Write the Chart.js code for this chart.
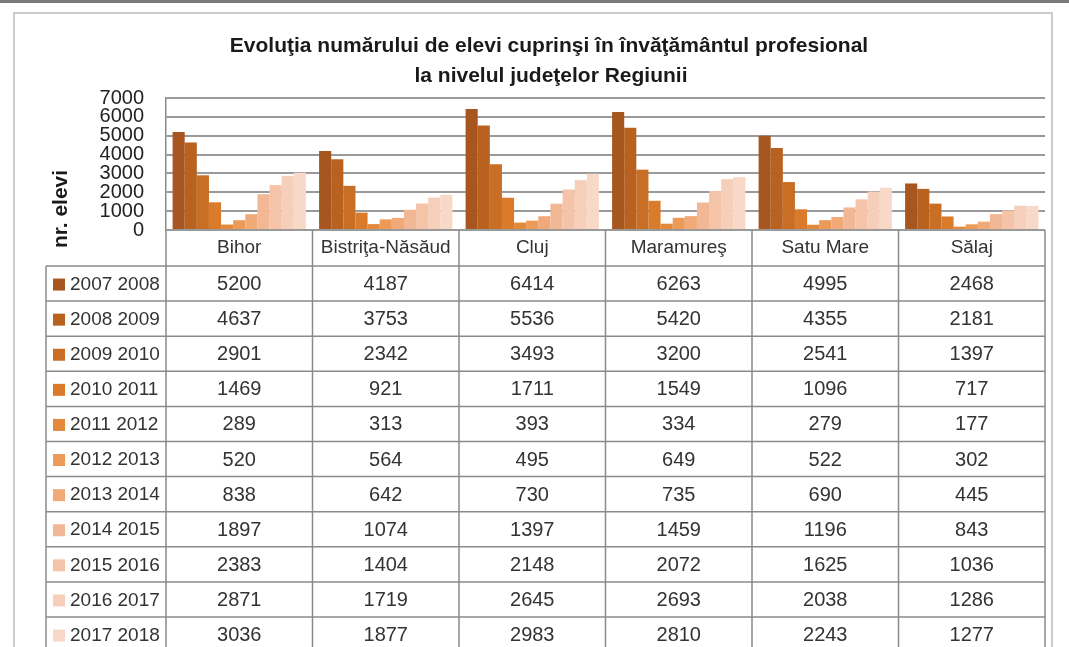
<!DOCTYPE html>
<html>
<head>
<meta charset="utf-8">
<script src="https://cdn.jsdelivr.net/npm/chart.js@4"></script>
<style>
  html, body { margin: 0; padding: 0; background: #fff; }
  #wrap { width: 1069px; height: 647px; position: relative; }
</style>
</head>
<body>
<div id="wrap"><canvas id="chart" width="1069" height="647"></canvas></div>
<script>
const counties = ['Bihor', 'Bistriţa-Năsăud', 'Cluj', 'Maramureş', 'Satu Mare', 'Sălaj'];
const seasons = ['2007 2008', '2008 2009', '2009 2010', '2010 2011', '2011 2012', '2012 2013',
  '2013 2014', '2014 2015', '2015 2016', '2016 2017', '2017 2018'];
const y2007 = [5200, 4187, 6414, 6263, 4995, 2468];
const y2008 = [4637, 3753, 5536, 5420, 4355, 2181];
const y2009 = [2901, 2342, 3493, 3200, 2541, 1397];
const y2010 = [1469, 921, 1711, 1549, 1096, 717];
const y2011 = [289, 313, 393, 334, 279, 177];
const y2012 = [520, 564, 495, 649, 522, 302];
const y2013 = [838, 642, 730, 735, 690, 445];
const y2014 = [1897, 1074, 1397, 1459, 1196, 843];
const y2015 = [2383, 1404, 2148, 2072, 1625, 1036];
const y2016 = [2871, 1719, 2645, 2693, 2038, 1286];
const y2017 = [3036, 1877, 2983, 2810, 2243, 1277];
const seriesValues = [y2007, y2008, y2009, y2010, y2011, y2012, y2013, y2014, y2015, y2016, y2017];
const yTicks = [0, 1000, 2000, 3000, 4000, 5000, 6000, 7000];

const colors = ['#a8561f', '#b9621f', '#c86e25', '#d97b2a', '#e4893a', '#ec9a58',
  '#f0a977', '#f2b795', '#f4c3a8', '#f6cfba', '#f8d9c8'];

const FONT = '"Liberation Sans", Arial, sans-serif';
const TITLE1 = 'Evoluţia numărului de elevi cuprinşi în învăţământul profesional';
const TITLE2 = 'la nivelul judeţelor Regiunii';

// table + frame + titles drawn around the plot
const tablePlugin = {
  id: 'dataTable',
  afterDraw(chart) {
    const ctx = chart.ctx;
    const xs = chart.scales.x;
    const area = chart.chartArea;
    const n = counties.length;
    const colW = (area.right - area.left) / n;
    const headTop = area.bottom;
    const rowTop = 266;
    const rowH = 35.1;
    const legLeft = 46;

    ctx.save();
    // outer frames
    ctx.strokeStyle = '#7a7a7a';
    ctx.lineWidth = 3;
    ctx.beginPath(); ctx.moveTo(0, 1.5); ctx.lineTo(1069, 1.5); ctx.stroke();
    ctx.strokeStyle = '#cccccc';
    ctx.lineWidth = 2;
    ctx.strokeRect(14, 13, 1038, 700);

    // titles
    ctx.fillStyle = '#1a1a1a';
    ctx.textAlign = 'center';
    ctx.textBaseline = 'middle';
    ctx.font = 'bold 21px ' + FONT;
    ctx.fillText(TITLE1, 549, 46);
    ctx.fillText(TITLE2, 551, 76);

    // axis title
    ctx.save();
    ctx.translate(61, 209);
    ctx.rotate(-Math.PI / 2);
    ctx.font = 'bold 21px ' + FONT;
    ctx.fillText('nr. elevi', 0, 0);
    ctx.restore();

    // table lines
    ctx.strokeStyle = '#8a8a8a';
    ctx.lineWidth = 1.5;
    ctx.beginPath();
    for (let i = 0; i <= n; i++) {
      const x = area.left + i * colW;
      ctx.moveTo(x, headTop); ctx.lineTo(x, 647);
    }
    ctx.moveTo(legLeft, rowTop); ctx.lineTo(legLeft, 647);
    for (let r = 0; r < seasons.length; r++) {
      const y = rowTop + r * rowH;
      ctx.moveTo(legLeft, y); ctx.lineTo(area.right, y);
    }
    ctx.stroke();

    // header labels
    ctx.fillStyle = '#333';
    ctx.font = '19px ' + FONT;
    counties.forEach((c, i) => {
      ctx.fillText(c, xs.getPixelForValue(i), headTop + 18);
    });

    // rows
    seasons.forEach((s, r) => {
      const yc = rowTop + r * rowH + rowH / 2 + 1;
      ctx.fillStyle = colors[r];
      ctx.fillRect(53, yc - 6, 12, 12);
      ctx.fillStyle = '#333';
      ctx.textAlign = 'left';
      ctx.font = '19px ' + FONT;
      ctx.fillText(s, 70, yc);
      ctx.textAlign = 'center';
      ctx.font = '20px ' + FONT;
      seriesValues[r].forEach((v, i) => {
        ctx.fillText(String(v), xs.getPixelForValue(i), yc);
      });
    });
    ctx.restore();
  }
};

new Chart(document.getElementById('chart'), {
  type: 'bar',
  data: {
    labels: counties,
    datasets: seasons.map((s, i) => ({
      label: s,
      data: seriesValues[i],
      backgroundColor: colors[i],
      borderWidth: 0,
      categoryPercentage: 0.91,
      barPercentage: 1.0
    }))
  },
  options: {
    responsive: false,
    animation: false,
    layout: { padding: { top: 98, right: 24, bottom: 417, left: 0 } },
    plugins: { legend: { display: false }, tooltip: { enabled: false } },
    scales: {
      x: { display: false },
      y: {
        min: 0, max: 7000,
        afterFit(scale) { scale.width = 166; },
        afterBuildTicks(scale) { scale.ticks = yTicks.map(v => ({ value: v })); },
        border: { display: true, color: '#8a8a8a', width: 1.5 },
        grid: { color: '#9a9a9a', lineWidth: 2, drawTicks: false },
        ticks: {
          autoSkip: false,
          padding: 22,
          color: '#222',
          font: { family: FONT, size: 20 },
          callback: v => String(v)
        }
      }
    }
  },
  plugins: [tablePlugin]
});
</script>
</body>
</html>
